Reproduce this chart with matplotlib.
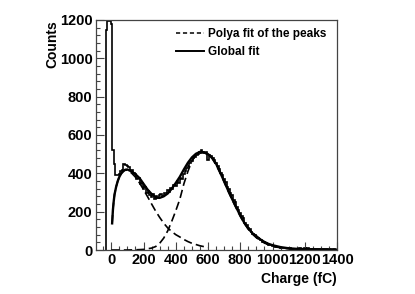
import numpy as np
import matplotlib
matplotlib.use("Agg")
import matplotlib.pyplot as plt
from matplotlib.lines import Line2D
from matplotlib.ticker import MultipleLocator

plt.rcParams['font.family'] = ['Liberation Sans', 'DejaVu Sans']
plt.rcParams['font.weight'] = 'bold'
plt.rcParams['lines.scale_dashes'] = False

# ---- data ----
bin_start = -35
bin_width = 10
counts = [1150, 1193, 1193, 1180,
          522, 450, 392, 392, 395, 410, 420, 448, 445, 440,
          432, 418, 420, 400, 395, 372, 378, 345, 352, 320,
          330, 300, 308, 288, 275, 290, 268, 280, 272, 285,
          290, 280, 300, 295, 312, 305, 325, 318, 340, 335,
          358, 350, 378, 372, 395, 410, 428, 440, 455, 465,
          478, 485, 495, 502, 510, 520, 512, 505, 510, 470,
          498, 490, 480, 470, 455, 440, 425, 400, 390, 368,
          355, 330, 318, 300, 285, 262, 250, 225, 208, 195,
          175, 165, 142, 132, 115, 108, 95, 85, 78, 68,
          62, 55, 50, 44, 40, 35, 32, 28, 25, 22,
          20, 18, 16, 15, 13, 12, 11, 10, 9, 8,
          8, 7, 7, 6, 6, 5, 8, 6, 5, 10,
          6, 12, 7, 5, 6, 4, 5, 4, 6, 3,
          4, 3, 3, 5, 2, 3, 2, 3, 2]

glob_x = [5, 10, 15, 20, 30, 40, 50, 62, 75, 87, 100, 125, 150, 175, 200, 225,
          250, 275, 300, 325, 350, 375, 400, 425, 450, 475, 500, 525, 550, 575,
          600, 625, 650, 675, 700, 725, 750, 775, 800, 825, 850, 875, 900, 925,
          950, 975, 1000, 1050, 1100, 1150, 1200, 1300, 1400]
glob_y = [139, 210, 255, 290, 330, 360, 382, 400, 412, 419, 420, 410, 395, 375,
          345, 315, 292, 275, 272, 280, 295, 320, 350, 382, 420, 455, 483, 502,
          512, 510, 500, 482, 450, 405, 358, 310, 265, 222, 180, 142, 112, 88,
          72, 55, 42, 32, 25, 15, 9, 6, 5, 3, 2]

polya1_x = [5, 10, 15, 20, 30, 40, 50, 62, 75, 87, 100, 125, 150, 175, 200,
            225, 250, 275, 300, 325, 350, 375, 400, 425, 450, 475, 500, 550, 600]
polya1_y = [139, 210, 255, 290, 330, 360, 382, 400, 412, 417, 416, 402, 380,
            350, 315, 278, 240, 203, 170, 140, 115, 96, 80, 68, 55, 44, 35, 22, 13]

polya2_x = [0, 100, 150, 200, 250, 275, 300, 325, 350, 375, 400, 425, 450, 475,
            500, 525, 550, 575, 600, 625, 650, 675, 700, 725, 750, 775, 800, 825,
            850, 875, 900, 950, 1000, 1050, 1100, 1150, 1200, 1300, 1400]
polya2_y = [0, 0, 1, 3, 10, 18, 35, 62, 100, 150, 205, 265, 345, 410, 465, 495,
            505, 508, 498, 478, 444, 402, 355, 307, 262, 218, 176, 139, 108, 83,
            64, 36, 20, 11, 6, 3, 2, 1, 0]

x_ticks = [0, 200, 400, 600, 800, 1000, 1200, 1400]
y_ticks = [0, 200, 400, 600, 800, 1000, 1200]

# ---- figure ----
W, H = 415, 294
fig = plt.figure(figsize=(W / 100, H / 100), dpi=100)
ax = fig.add_axes([96 / W, 1 - 250 / H, (337 - 96) / W, (250 - 20) / H])

edges = bin_start + bin_width * np.arange(len(counts) + 1)
ax.stairs(counts, edges, color='black', linewidth=1.2, baseline=0)

ax.plot(polya1_x, polya1_y, color='black', linewidth=1.2, dashes=(6, 3))
ax.plot(polya2_x, polya2_y, color='black', linewidth=1.2, dashes=(6, 3))
ax.plot(glob_x, glob_y, color='black', linewidth=1.7)

ax.set_xlim(-95, 1400)
ax.set_ylim(0, 1200)
ax.set_xticks(x_ticks)
ax.set_yticks(y_ticks)
ax.xaxis.set_minor_locator(MultipleLocator(50))
ax.yaxis.set_minor_locator(MultipleLocator(40))
ax.tick_params(which='both', direction='in', top=False, right=False,
               labelsize=10.5, width=0.8, color='#444444')
ax.tick_params(which='major', length=6, pad=2.5)
ax.tick_params(which='minor', length=3)
for lab in ax.get_xticklabels() + ax.get_yticklabels():
    lab.set_fontweight('bold')
for s in ax.spines.values():
    s.set_color('#444444')
    s.set_linewidth(0.9)

ax.set_xlabel('Charge (fC)', fontsize=10, fontweight='bold', loc='right', labelpad=3)
ax.set_ylabel('Counts', fontsize=10, fontweight='bold', loc='top', labelpad=0)

handles = [Line2D([], [], color='black', linewidth=1.1, dashes=(3, 2)),
           Line2D([], [], color='black', linewidth=1.4)]
labels = ['Polya fit of the peaks', 'Global fit']
leg = fig.legend(handles, labels, loc='upper left',
                 bbox_to_anchor=(176 / W, 1 - 28 / H), frameon=False,
                 prop={'size': 8.5, 'weight': 'bold'}, handlelength=2.4,
                 handletextpad=0.35, labelspacing=0.55, borderpad=0,
                 borderaxespad=0)

fig.savefig('out.png', dpi=100)
